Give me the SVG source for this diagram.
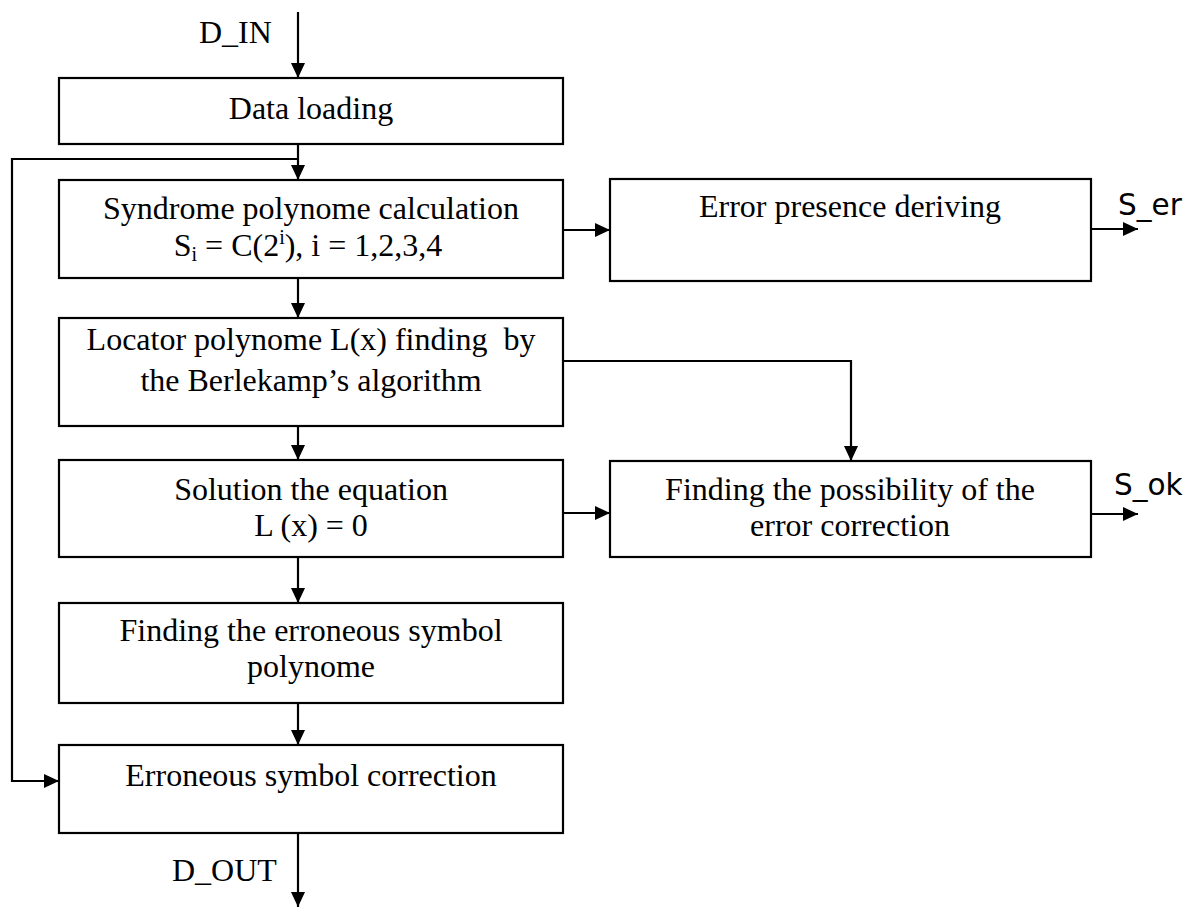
<svg xmlns="http://www.w3.org/2000/svg" width="1187" height="907" viewBox="0 0 1187 907">
<style>
.box { fill: #fff; stroke: #000; stroke-width: 2.2; }
.wire { fill: none; stroke: #000; stroke-width: 2.2; }
.t { font-family: "Liberation Serif", "Times New Roman", serif; font-size: 32px; fill: #000; text-anchor: middle; }
.l { font-family: "Liberation Serif", "Times New Roman", serif; font-size: 32px; fill: #000; }
.s { font-family: "DejaVu Sans", Verdana, sans-serif; font-size: 29.5px; fill: #000; }
</style>
<defs>
<marker id="arr" markerWidth="15" markerHeight="14" refX="15" refY="7" orient="auto" markerUnits="userSpaceOnUse">
<path d="M0,0 L15,7 L0,14 Z" fill="#000"/>
</marker>
</defs>
<rect width="1187" height="907" fill="#fff"/>
<g id="connectors">
<path class="wire" d="M298,12 V78" marker-end="url(#arr)"/>
<path class="wire" d="M298,144 V180" marker-end="url(#arr)"/>
<path class="wire" d="M298,159 H12 V781 H59" marker-end="url(#arr)"/>
<path class="wire" d="M563,230 H610" marker-end="url(#arr)"/>
<path class="wire" d="M1091,229 H1138" marker-end="url(#arr)"/>
<path class="wire" d="M298,278 V318" marker-end="url(#arr)"/>
<path class="wire" d="M563,361 H851 V461" marker-end="url(#arr)"/>
<path class="wire" d="M298,426 V460" marker-end="url(#arr)"/>
<path class="wire" d="M563,513 H610" marker-end="url(#arr)"/>
<path class="wire" d="M1091,514 H1138" marker-end="url(#arr)"/>
<path class="wire" d="M298,557 V603" marker-end="url(#arr)"/>
<path class="wire" d="M298,703 V745" marker-end="url(#arr)"/>
<path class="wire" d="M298,833 V907" marker-end="url(#arr)"/>
</g>
<g id="labels">
<text class="l" x="199" y="43">D_IN</text>
<text class="l" x="172" y="881">D_OUT</text>
<text class="s" x="1118" y="215">S_er</text>
<text class="s" x="1114" y="495">S_ok</text>
</g>
<g id="data-loading">
<rect class="box" x="59" y="78" width="504" height="66"/>
<text class="t" x="311" y="119">Data loading</text>
</g>
<g id="syndrome">
<rect class="box" x="59" y="180" width="504" height="98"/>
<text class="t" x="311" y="219">Syndrome polynome calculation</text>
<text class="t" x="308" y="256"><tspan>S</tspan><tspan font-size="20" dy="5">i</tspan><tspan dy="-5"> = C(2</tspan><tspan font-size="20" dy="-12">i</tspan><tspan dy="12">), i = 1,2,3,4</tspan></text>
</g>
<g id="error-presence">
<rect class="box" x="610" y="179" width="481" height="102"/>
<text class="t" x="850" y="217">Error presence deriving</text>
</g>
<g id="locator">
<rect class="box" x="59" y="318" width="504" height="108"/>
<text class="t" x="311" y="350" xml:space="preserve">Locator polynome L(x) finding  by</text>
<text class="t" x="311" y="391">the Berlekamp’s algorithm</text>
</g>
<g id="solution">
<rect class="box" x="59" y="460" width="504" height="97"/>
<text class="t" x="311" y="500">Solution the equation</text>
<text class="t" x="311" y="536">L (x) = 0</text>
</g>
<g id="possibility">
<rect class="box" x="610" y="461" width="481" height="96"/>
<text class="t" x="850" y="500">Finding the possibility of the</text>
<text class="t" x="850" y="536">error correction</text>
</g>
<g id="erroneous-polynome">
<rect class="box" x="59" y="603" width="504" height="100"/>
<text class="t" x="311" y="641">Finding the erroneous symbol</text>
<text class="t" x="311" y="677">polynome</text>
</g>
<g id="correction">
<rect class="box" x="59" y="745" width="504" height="88"/>
<text class="t" x="311" y="786">Erroneous symbol correction</text>
</g>
</svg>
